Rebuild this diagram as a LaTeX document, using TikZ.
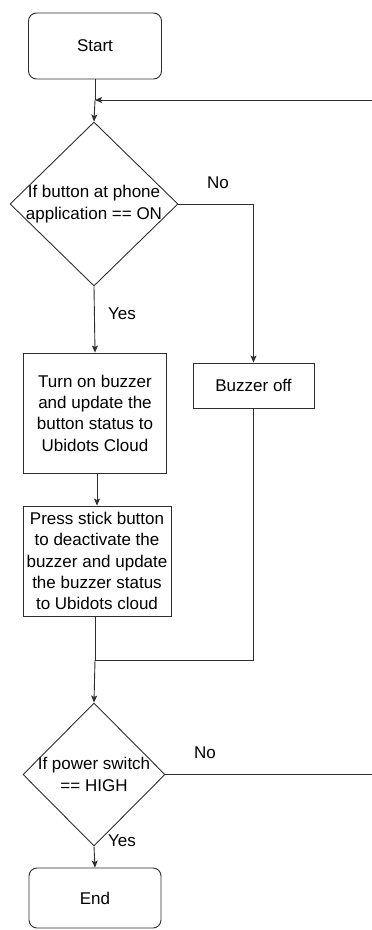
\documentclass[tikz,border=0pt]{standalone}
\usepackage{fontspec}
\setmainfont{Liberation Sans}
\usetikzlibrary{shapes.geometric,arrows.meta}
\definecolor{lc}{HTML}{2E2E2E}
\begin{document}
\begin{tikzpicture}[x=1pt,y=-1pt,
  every node/.style={font=\fontsize{17}{21.3}\selectfont, text=black},
  line/.style={draw=lc, line width=0.9pt},
  arr/.style={line, -{Stealth[length=7pt,width=6pt,inset=1.5pt]}},
  term/.style={draw=lc, line width=0.9pt, rounded corners=8pt, minimum width=133pt, minimum height=66pt, inner sep=0pt},
  proc/.style={draw=lc, line width=0.9pt, inner sep=0pt, align=center},
  dec/.style={diamond, draw=lc, line width=0.9pt, inner sep=0pt},
  lbl/.style={inner sep=0pt}
]
\useasboundingbox (0,0) rectangle (372,930);
% nodes
\node[term] (start) at (95,46) {Start};
\node[dec, minimum width=168pt, minimum height=164pt,
      label={[lbl, align=center]center:If button at phone\\application == ON}] (d1) at (94,204) {};
\node[proc, minimum width=143pt, minimum height=120pt] (box1) at (95,413)
  {Turn on buzzer\\and update the\\button status to\\Ubidots Cloud};
\node[proc, minimum width=121pt, minimum height=45pt] (buzz) at (253.5,385.5) {Buzzer off};
\node[proc, minimum width=148pt, minimum height=110pt] (box2) at (97,561)
  {Press stick button\\to deactivate the\\buzzer and update\\the buzzer status\\to Ubidots cloud};
\node[dec, minimum width=142pt, minimum height=143pt,
      label={[lbl, align=center]center:If power switch\\== HIGH}] (d2) at (94,774.5) {};
\node[term, minimum width=132pt, minimum height=60pt] (end) at (95,898) {End};
% edge labels
\node[lbl] (no1) at (218,183) {No};
\node[lbl] (yes1) at (122,314) {Yes};
\node[lbl] (no2) at (205,753) {No};
\node[lbl] (yes2) at (122,841) {Yes};
% coordinates
\coordinate (loopR) at (372,100);
\coordinate (j1) at (95,100);
\coordinate (j2) at (95,660);
\coordinate (loopL) at (372,774.5);
% connectors
\draw[line] (start.south) -- (j1);
\draw[arr] (loopR) -- (j1);
\draw[arr] (j1) -- (d1.north);
\draw[arr] (d1.east) -| (buzz.north);
\draw[arr] (d1.south) -- (box1.north);
\draw[arr] (box2.north |- box1.south) -- (box2.north);
\draw[line] (box2.south -| j2) -- (j2);
\draw[line] (buzz.south) |- (j2);
\draw[arr] (j2) -- (d2.north);
\draw[line] (d2.east) -- (loopL);
\draw[arr] (d2.south) -- (end.north);
\end{tikzpicture}
\end{document}
